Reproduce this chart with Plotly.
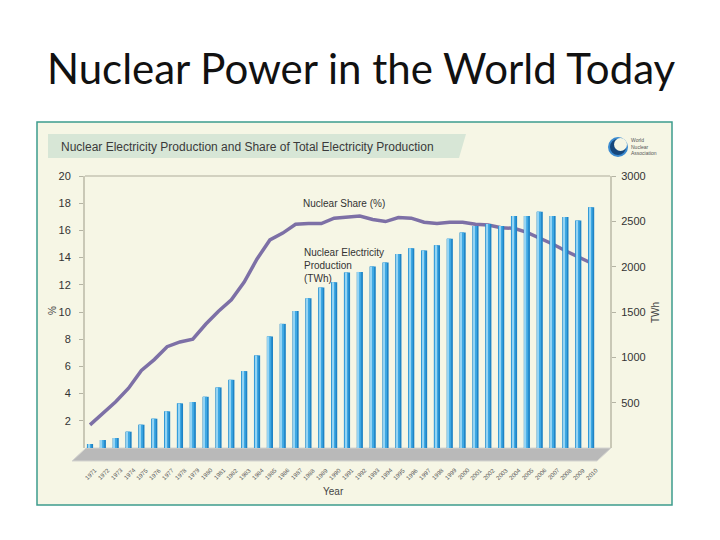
import plotly.graph_objects as go

years = list(range(1971, 2011))
production_twh = [44, 88, 110, 180, 257, 323, 404, 492, 507, 565,
                  668, 752, 848, 1021, 1230, 1369, 1512, 1652, 1770, 1828,
                  1935, 1942, 2001, 2045, 2140, 2203, 2177, 2236, 2309, 2376,
                  2448, 2470, 2448, 2558, 2558, 2607, 2558, 2547, 2508, 2654]
share_pct = [1.7, 2.55, 3.4, 4.4, 5.7, 6.5, 7.45, 7.8, 8.0, 9.1,
             10.05, 10.9, 12.2, 13.9, 15.3, 15.8, 16.45, 16.5, 16.5, 16.9,
             17.0, 17.05, 16.8, 16.65, 16.95, 16.9, 16.6, 16.5, 16.6, 16.6,
             16.45, 16.4, 16.2, 16.15, 15.85, 15.45, 15.0, 14.5, 14.05, 13.6]
left_ticks = [2, 4, 6, 8, 10, 12, 14, 16, 18, 20]
right_ticks = [500, 1000, 1500, 2000, 2500, 3000]

W, H = 720, 540
L, R, T, B = 85, 110, 176, 92
PW, PH = W - L - R, H - T - B


def px(x):
    return (x - L) / PW


def py(y):
    return (H - B - y) / PH


fig = go.Figure()

# cylinder-like bars (three overlaid layers of the same data)
fig.add_trace(go.Bar(x=years, y=production_twh, yaxis="y2", width=0.48, offset=-0.24,
                     marker=dict(color="#1f84c6", line=dict(width=0)), hoverinfo="skip",
                     showlegend=False))
fig.add_trace(go.Bar(x=years, y=production_twh, yaxis="y2", width=0.32, offset=-0.21,
                     marker=dict(color="#3ea8e3", line=dict(width=0)), showlegend=False))
fig.add_trace(go.Bar(x=years, y=production_twh, yaxis="y2", width=0.1, offset=-0.15,
                     marker=dict(color="#95d4f3", line=dict(width=0)), hoverinfo="skip",
                     showlegend=False))

fig.add_trace(go.Scatter(x=years, y=share_pct, mode="lines", yaxis="y",
                         line=dict(color="#7d70a6", width=3.5), showlegend=False))

axis_font = dict(family="Liberation Sans, Arial, sans-serif", size=11, color="#333333")

fig.update_layout(
    width=W, height=H,
    margin=dict(l=L, r=R, t=T, b=B),
    paper_bgcolor="white",
    plot_bgcolor="rgba(0,0,0,0)",
    barmode="overlay",
    xaxis=dict(range=[1970.61, 2011.47], showgrid=False, zeroline=False,
               showticklabels=False, showline=False, ticks=""),
    yaxis=dict(range=[0, 20], tickvals=left_ticks, showgrid=False, zeroline=False,
               showline=True, linecolor="#c9c8b6", linewidth=2,
               ticks="outside", ticklen=4, tickcolor="#b5b4a4",
               tickfont=axis_font, ticklabelstandoff=6),
    yaxis2=dict(range=[0, 3000], tickvals=right_ticks, overlaying="y", side="right",
                showgrid=False, zeroline=False, showline=True, linecolor="#c9c8b6",
                linewidth=2, ticks="outside", ticklen=4, tickcolor="#b5b4a4",
                tickfont=axis_font, ticklabelstandoff=3),
    font=dict(family="Liberation Sans, Arial, sans-serif"),
)

shapes = []
# chart frame
shapes.append(dict(type="rect", xref="paper", yref="paper", layer="below",
                   x0=px(37), x1=px(672), y0=py(505), y1=py(122),
                   fillcolor="#f6f6e5", line=dict(color="#3d9c8d", width=1.5)))
# header banner
shapes.append(dict(type="path", xref="paper", yref="paper", layer="below",
                   path=f"M {px(48)},{py(134)} L {px(466)},{py(134)} L {px(459)},{py(158)} L {px(48)},{py(158)} Z",
                   fillcolor="#d7e6d6", line=dict(width=0)))
# top edge of back wall
shapes.append(dict(type="line", xref="paper", yref="paper", layer="below",
                   x0=px(85), x1=px(610), y0=py(176), y1=py(176),
                   line=dict(color="#d2d1c0", width=2)))
# floor
shapes.append(dict(type="path", xref="paper", yref="paper", layer="below",
                   path=f"M {px(86)},{py(448)} L {px(611)},{py(448)} L {px(597)},{py(461)} L {px(72)},{py(461)} Z",
                   fillcolor="#b9b9b9", line=dict(color="#d4d4d0", width=1)))
# logo
shapes.append(dict(type="circle", xref="paper", yref="paper",
                   x0=px(609), x1=px(627), y0=py(156), y1=py(138),
                   fillcolor="#16477c", line=dict(color="#3a8ad0", width=2)))
shapes.append(dict(type="circle", xref="paper", yref="paper",
                   x0=px(614), x1=px(627), y0=py(151), y1=py(138),
                   fillcolor="#f6f6e5", line=dict(width=0)))
fig.update_layout(shapes=shapes)

ann = []
ann.append(dict(text="Nuclear Power in the World Today", x=px(361), y=py(68), xref="paper", yref="paper",
                showarrow=False, font=dict(family="Lato, Open Sans, sans-serif", size=42, color="#111111"),
                xanchor="center", yanchor="middle"))
ann.append(dict(text="Nuclear Electricity Production and Share of Total Electricity Production",
                x=px(59), y=py(147), xref="paper", yref="paper", showarrow=False,
                font=dict(size=12, color="#3a3a3a"), xanchor="left", yanchor="middle"))
ann.append(dict(text="World<br>Nuclear<br>Association", x=px(629), y=py(147), xref="paper", yref="paper",
                showarrow=False, font=dict(size=5, color="#555555"), xanchor="left", yanchor="middle",
                align="left"))
ann.append(dict(text="Nuclear Share (%)", x=px(301), y=py(203), xref="paper", yref="paper",
                showarrow=False, font=dict(size=10, color="#333333"), xanchor="left", yanchor="middle"))
ann.append(dict(text="Nuclear Electricity<br>Production<br>(TWh)", x=px(302), y=py(265), xref="paper",
                yref="paper", showarrow=False, font=dict(size=10, color="#333333"), xanchor="left",
                yanchor="middle", align="left"))
ann.append(dict(text="%", x=px(52), y=py(311), xref="paper", yref="paper", showarrow=False,
                textangle=-90, xanchor="center", yanchor="middle",
                font=dict(size=10, color="#444444")))
ann.append(dict(text="TWh", x=px(655), y=py(313), xref="paper", yref="paper", showarrow=False,
                textangle=-90, xanchor="center", yanchor="middle",
                font=dict(size=10, color="#444444")))
ann.append(dict(text="Year", x=px(333), y=py(491), xref="paper", yref="paper", showarrow=False,
                xanchor="center", yanchor="middle", font=dict(size=10, color="#444444")))
for yr in years:
    ann.append(dict(text=str(yr), x=yr, xref="x", y=py(464), yref="paper", showarrow=False,
                    textangle=-45, xanchor="center", yanchor="top", xshift=1,
                    font=dict(size=6, color="#555555")))
fig.update_layout(annotations=ann)

fig.write_html("out.html", config={"displayModeBar": False},
               post_script="document.body.style.margin='0';document.body.style.padding='0';")
